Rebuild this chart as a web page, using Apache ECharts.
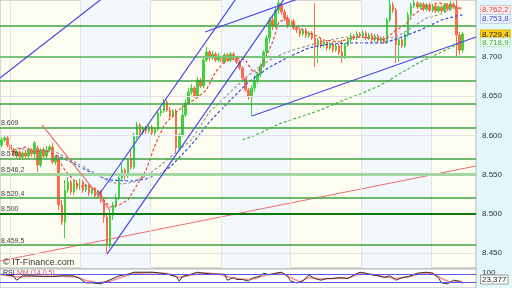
<!DOCTYPE html>
<html><head><meta charset="utf-8">
<script src="https://cdn.jsdelivr.net/npm/echarts@6/dist/echarts.min.js"></script>
<style>html,body{margin:0;padding:0;background:#e3f8fd}#c{width:512px;height:288px}</style>
</head><body><div id="c"></div>
<script>
// ---- data ----
const candles = [
[8.5878,8.5941,8.5852,8.5980],[8.5941,8.5967,8.5916,8.6005],[8.5967,8.5878,8.5852,8.5992],[8.5878,8.5814,8.5788,8.5903],
[8.5814,8.5750,8.5725,8.5839],[8.5750,8.5788,8.5712,8.5814],[8.5788,8.5725,8.5686,8.5814],[8.5725,8.5776,8.5699,8.5801],
[8.5776,8.5737,8.5712,8.5814],[8.5737,8.5814,8.5712,8.5839],[8.5814,8.5763,8.5725,8.5839],[8.5763,8.5903,8.5712,8.5929],
[8.5839,8.5623,8.5533,8.5878],[8.5623,8.5814,8.5597,8.5839],[8.5814,8.5737,8.5712,8.5852],[8.5737,8.5814,8.5712,8.5865],
[8.5814,8.5852,8.5788,8.5878],[8.5852,8.5661,8.5635,8.5903],[8.5661,8.5725,8.5623,8.5750],[8.5712,8.5112,8.5048,8.5737],
[8.5112,8.4896,8.4857,8.5176],[8.4896,8.5304,8.4691,8.5431],[8.5304,8.5406,8.5265,8.5469],[8.5406,8.5278,8.5240,8.5431],
[8.5278,8.5393,8.5240,8.5418],[8.5393,8.5329,8.5304,8.5431],[8.5329,8.5406,8.5304,8.5444],[8.5406,8.5304,8.5265,8.5431],
[8.5304,8.5355,8.5278,8.5380],[8.5355,8.5265,8.5227,8.5380],[8.5265,8.5316,8.5240,8.5342],[8.5316,8.5227,8.5202,8.5342],
[8.5227,8.5278,8.5189,8.5304],[8.5278,8.5176,8.5138,8.5304],[8.5176,8.4959,8.4883,8.5202],[8.4959,8.4602,8.4487,8.4985],
[8.4602,8.4985,8.4564,8.5048],[8.4985,8.5112,8.4921,8.5151],[8.5112,8.5202,8.5074,8.5253],[8.5202,8.5457,8.5176,8.5495],
[8.5457,8.5559,8.5431,8.5661],[8.5559,8.5482,8.5431,8.5584],[8.5482,8.5686,8.5457,8.5712],[8.5712,8.5597,8.5559,8.5814],
[8.5597,8.5980,8.5571,8.6031],[8.5980,8.6133,8.5954,8.6171],[8.6133,8.6031,8.5980,8.6158],[8.6031,8.6094,8.6005,8.6120],
[8.6094,8.6056,8.6018,8.6120],[8.6056,8.6107,8.6031,8.6133],[8.6107,8.6031,8.6005,8.6133],[8.6031,8.6082,8.6005,8.6107],
[8.6082,8.6286,8.6056,8.6324],[8.6286,8.6311,8.6247,8.6349],[8.6311,8.6426,8.6286,8.6464],[8.6426,8.6324,8.6298,8.6452],
[8.6324,8.6247,8.6222,8.6362],[8.6247,8.6311,8.6222,8.6337],[8.6311,8.5839,8.5776,8.6337],[8.5839,8.6005,8.5814,8.6031],
[8.6005,8.6260,8.5980,8.6388],[8.6260,8.6413,8.6235,8.6452],[8.6413,8.6554,8.6388,8.6605],[8.6554,8.6605,8.6515,8.6656],
[8.6605,8.6503,8.6477,8.6630],[8.6503,8.6707,8.6477,8.6745],[8.6707,8.6630,8.6605,8.6732],[8.6630,8.6962,8.6605,8.7000],
[8.6962,8.7064,8.6936,8.7128],[8.7064,8.6987,8.6949,8.7089],[8.6987,8.7038,8.6962,8.7077],[8.7038,8.6962,8.6936,8.7064],
[8.6962,8.7013,8.6936,8.7051],[8.7013,8.6936,8.6923,8.7038],[8.6936,8.7025,8.6911,8.7051],[8.7025,8.6962,8.6936,8.7051],
[8.6962,8.7038,8.6936,8.7064],[8.7038,8.6987,8.6962,8.7064],[8.6987,8.6936,8.6911,8.7013],[8.6936,8.6860,8.6834,8.6962],
[8.6860,8.6732,8.6707,8.6885],[8.6732,8.6579,8.6554,8.6745],[8.6579,8.6490,8.6452,8.6605],[8.6490,8.6605,8.6247,8.6643],
[8.6605,8.6707,8.6554,8.6770],[8.6707,8.6783,8.6656,8.6809],[8.6783,8.6885,8.6745,8.6923],[8.6885,8.7064,8.6860,8.7089],
[8.7064,8.7242,8.7025,8.7281],[8.7242,8.7472,8.7179,8.7510],[8.7472,8.7395,8.7344,8.7536],[8.7395,8.7599,8.7370,8.7638],
[8.7599,8.7689,8.7548,8.7765],[8.7663,8.7574,8.7536,8.7701],[8.7574,8.7497,8.7459,8.7612],[8.7497,8.7408,8.7370,8.7536],
[8.7408,8.7459,8.7383,8.7497],[8.7459,8.7370,8.7344,8.7485],[8.7370,8.7344,8.7306,8.7395],[8.7344,8.7293,8.7255,8.7370],
[8.7293,8.7344,8.7268,8.7370],[8.7344,8.7268,8.7242,8.7370],[8.7268,8.7306,8.7242,8.7332],[8.7306,8.7242,8.7217,8.7332],
[8.7242,8.7140,8.6872,8.7689],[8.7140,8.7217,8.6923,8.7242],[8.7217,8.7153,8.7115,8.7242],[8.7153,8.7191,8.7128,8.7217],
[8.7191,8.7115,8.7089,8.7217],[8.7115,8.7166,8.7089,8.7191],[8.7166,8.7089,8.7051,8.7191],[8.7089,8.7140,8.7064,8.7166],
[8.7140,8.7064,8.7025,8.7166],[8.7064,8.7000,8.6923,8.7217],[8.7000,8.7153,8.6974,8.7179],[8.7153,8.7217,8.7128,8.7242],
[8.7217,8.7268,8.7191,8.7306],[8.7268,8.7242,8.7217,8.7293],[8.7242,8.7293,8.7217,8.7332],[8.7293,8.7268,8.7242,8.7319],
[8.7268,8.7306,8.7242,8.7344],[8.7306,8.7242,8.7217,8.7332],[8.7242,8.7281,8.7217,8.7306],[8.7281,8.7217,8.7191,8.7306],
[8.7217,8.7268,8.7191,8.7293],[8.7268,8.7204,8.7179,8.7293],[8.7204,8.7242,8.7179,8.7268],[8.7242,8.7191,8.7166,8.7268],
[8.7191,8.7472,8.7166,8.7497],[8.7472,8.7663,8.7446,8.7750],[8.7663,8.7599,8.7561,8.7701],[8.7599,8.7153,8.6923,8.7625],
[8.7153,8.7217,8.6936,8.7242],[8.7217,8.7140,8.7115,8.7242],[8.7140,8.7281,8.7115,8.7306],[8.7281,8.7536,8.7255,8.7574],
[8.7536,8.7650,8.7510,8.7689],[8.7650,8.7689,8.7625,8.7727],[8.7689,8.7638,8.7612,8.7714],[8.7638,8.7676,8.7612,8.7701],
[8.7676,8.7612,8.7587,8.7701],[8.7612,8.7663,8.7587,8.7689],[8.7663,8.7599,8.7574,8.7689],[8.7599,8.7650,8.7574,8.7676],
[8.7650,8.7587,8.7561,8.7676],[8.7587,8.7638,8.7561,8.7663],[8.7638,8.7587,8.7561,8.7663],[8.7587,8.7663,8.7561,8.7689],
[8.7663,8.7612,8.7587,8.7689],[8.7612,8.7676,8.7587,8.7714],[8.7676,8.7638,8.7612,8.7701],[8.7638,8.7281,8.7000,8.7727],
[8.7281,8.7089,8.7025,8.7319],[8.7089,8.7293,8.7051,8.7319]
];
const slotCount = 158;
const maRed = [[4,8.5814],[8,8.5852],[11,8.5788],[14,8.5814],[18,8.5750],[19,8.5686],[21,8.5559],[24,8.5431],[26,8.5342],[28,8.5367],[29,8.5355],[32,8.5304],[34,8.5176],[36,8.5087],[39,8.5112],[42,8.5176],[44,8.5304],[48,8.5559],[51,8.5878],[54,8.6133],[58,8.6298],[61,8.6388],[64,8.6452],[68,8.6579],[71,8.6809],[74,8.6936],[78,8.6987],[81,8.6962],[83,8.6834],[85,8.6796],[87,8.6936],[90,8.7191],[92,8.7446],[95,8.7497],[97,8.7421],[101,8.7319],[104,8.7281],[107,8.7217],[112,8.7191],[116,8.7242],[119,8.7255],[122,8.7242],[127,8.7217],[131,8.7344],[134,8.7408],[137,8.7548],[141,8.7650],[145,8.7689],[149,8.7663],[152,8.7625],[153,8.7622]];
const maGray = [[5,8.5839],[9,8.5814],[14,8.5814],[18,8.5788],[23,8.5686],[28,8.5584],[33,8.5469],[36,8.5406],[40,8.5380],[44,8.5406],[48,8.5482],[53,8.5623],[58,8.5788],[63,8.5941],[69,8.6298],[76,8.6554],[82,8.6770],[89,8.6962],[94,8.7051],[99,8.7115],[104,8.7166],[109,8.7217],[114,8.7255],[119,8.7255],[126,8.7230],[131,8.7255],[136,8.7370],[141,8.7497],[146,8.7548],[150,8.7625],[153,8.7612]];
const maBlue = [[18,8.5750],[23,8.5661],[28,8.5559],[33,8.5469],[36,8.5431],[43,8.5418],[48,8.5444],[53,8.5520],[56,8.5597],[63,8.5878],[69,8.6171],[76,8.6452],[82,8.6681],[89,8.6872],[96,8.7013],[102,8.7115],[109,8.7166],[116,8.7179],[122,8.7179],[127,8.7179],[132,8.7242],[139,8.7344],[146,8.7472],[151,8.7523],[153,8.7538]];
const maGreen = [[80,8.5941],[86,8.6031],[92,8.6145],[99,8.6235],[106,8.6324],[112,8.6426],[119,8.6528],[126,8.6643],[132,8.6783],[139,8.6936],[146,8.7064],[153,8.7189]];
const tlBlueTop = [[-0.5,8.6732],[34.02,8.7765]];
const tlBlueA = [[32.03,8.5227],[79.16,8.7816]];
const tlBlueB = [[35.02,8.4487],[94.27,8.7765]];
const tlBlueUpper = [[67.55,8.7319],[99.08,8.7750]];
const tlBlueLower = [[83.15,8.6247],[157.5,8.7255]];
const tlRedDown = [[13.44,8.6133],[36.01,8.5048]];
const tlRedLong = [[-0.5,8.4398],[157.5,8.5610]];
const levelValues = [8.7434,8.7000,8.6681,8.6375,8.6090,8.5750,8.5462,8.5204,8.5000,8.4595];
const levelLabels = ['','','','','8.609','8.575','8.546,2','8.520,4','8.500','8.459,5'];
const priceTicks = [8.45,8.50,8.55,8.60,8.65,8.70];
const sessionBreaks = [2.82,26.05,49.29,72.86,95.76,119.33,142.56];
const endValues = [8.7622,8.7538,8.7294,8.7189];
const endTexts = ['8.762,2','8.753,8','8.729,4','8.718,9'];
const rsi = [[0,73],[4,64],[5,41],[7,64],[10,64],[14,60],[17,60],[20,64],[24,64],[26,50],[28,27],[30,27],[33,22],[35,36],[37,50],[39,64],[42,73],[44,83],[47,83],[50,83],[53,78],[55,73],[58,60],[59,36],[60,60],[63,73],[65,83],[67,78],[70,73],[74,73],[75,41],[77,55],[78,45],[80,45],[82,36],[83,50],[86,64],[87,78],[89,69],[91,78],[93,83],[95,60],[96,36],[98,27],[100,36],[102,69],[104,50],[106,41],[108,50],[110,50],[112,55],[115,50],[117,69],[119,83],[121,78],[123,69],[125,64],[127,55],[129,64],[131,41],[133,55],[135,60],[138,78],[141,83],[143,78],[145,55],[146,27],[148,22],[150,41],[152,36],[153,23.377]];
const rsiSignal = [[0,70],[5,58],[10,62],[15,62],[20,62],[25,58],[28,40],[32,28],[36,35],[40,58],[44,76],[50,82],[55,76],[59,55],[63,68],[67,80],[72,74],[76,55],[80,46],[84,48],[88,70],[93,80],[96,55],[99,32],[102,55],[106,48],[110,50],[115,52],[119,75],[123,72],[127,60],[131,50],[135,58],[139,75],[143,80],[146,50],[149,30],[153,35]];
const rsiLevels = [70,30];
const rsiLast = 23.377;
const rsiLastText = '23,377';

// ---- chart ----
const cats = Array.from({length: slotCount}, (_, i) => String(i));
const F = 'Liberation Sans, Arial, sans-serif';
const chart = echarts.init(document.getElementById('c'), null, {renderer: 'canvas'});

function levelStyle(i) {
  const v = levelValues[i];
  if (v === 8.7) return {color: '#7cc47c', width: 2};
  if (v === 8.5462) return {color: '#a3d6a3', width: 3};
  if (v === 8.5) return {color: '#0a7a0a', width: 2};
  return {color: '#3ea23e', width: 1.5};
}
const endStyles = [
  {color: '#e03535', backgroundColor: '#fff2f2', borderColor: '#e8c0c0', offset: [0, 0]},
  {color: '#3a4ad0', backgroundColor: '#f2f6ff', borderColor: '#c0c8e8', offset: [0, 1]},
  {color: '#222', backgroundColor: '#ffcf1a', borderColor: '#e0b000', offset: [0, 1]},
  {color: '#33aa33', backgroundColor: '#f2fff2', borderColor: '#c0e0c0', offset: [0, 1]}
];

const tl = (data, color, width) => ({
  type: 'line', xAxisIndex: 1, yAxisIndex: 0, data, showSymbol: false, silent: true, z: 5,
  lineStyle: {color, width}, clip: true
});
const ma = (data, color) => ({
  type: 'line', xAxisIndex: 1, yAxisIndex: 0, data, showSymbol: false, silent: true, z: 4,
  lineStyle: {color, width: 1.2, type: [3, 2]}, clip: true
});
const hidden = 'rgba(0,0,0,0)';
// holder series for the value boxes on the right (not clipped, invisible line)
const endLabelSeries = {
  type: 'line', xAxisIndex: 1, yAxisIndex: 0, data: [[0, endValues[0]]], showSymbol: false, silent: true,
  clip: false, z: 20, lineStyle: {color: hidden, width: 0},
  markLine: {symbol: 'none', silent: true, animation: false,
    data: endValues.map((v, k) => ({yAxis: v, lineStyle: {color: hidden, width: 0}, label: {
      show: true, position: 'end', distance: 5, formatter: endTexts[k], fontFamily: F, fontSize: 8,
      color: endStyles[k].color, backgroundColor: endStyles[k].backgroundColor,
      borderColor: endStyles[k].borderColor, borderWidth: 1, padding: [0, 1, 0, 1], offset: endStyles[k].offset
    }}))}
};

const option = {
  animation: false,
  backgroundColor: '#e3f8fd',
  grid: [
    {left: 0, right: 36, top: 0, height: 268, show: true, backgroundColor: '#fdfdf2', borderColor: '#b4b4b4', borderWidth: 1},
    {left: 0, right: 36, top: 269, height: 22, show: true, backgroundColor: '#ffffff', borderColor: '#b4b4b4', borderWidth: 1}
  ],
  xAxis: [
    {type: 'category', gridIndex: 0, data: cats, boundaryGap: true, show: false},
    {type: 'value', gridIndex: 0, min: -0.5, max: slotCount - 0.5, show: false},
    {type: 'value', gridIndex: 1, min: -0.5, max: slotCount - 0.5, show: false}
  ],
  yAxis: [
    {type: 'value', gridIndex: 0, position: 'right', min: 8.4309, max: 8.7727, scale: true,
      axisLine: {show: false}, splitLine: {show: false},
      axisTick: {show: true, length: 4, lineStyle: {color: '#888'}, customValues: priceTicks},
      axisLabel: {show: true, customValues: priceTicks, fontFamily: F, fontSize: 8, color: '#333', margin: 6,
        formatter: v => v.toFixed(3)}},
    {type: 'value', gridIndex: 1, position: 'right', min: 0, max: 100,
      axisLine: {show: false}, splitLine: {show: false}, axisTick: {show: false},
      axisLabel: {show: true, customValues: [100], fontFamily: F, fontSize: 8, color: '#333', margin: 6, verticalAlign: 'top'}}
  ],
  graphic: [
    {type: 'text', left: 3, top: 258, z: 50, style: {text: '© IT-Finance.com', font: '9px ' + F, fill: '#333'}},
    {type: 'text', left: 3, top: 270, z: 50, style: {text: 'RSI', font: '7px ' + F, fill: '#222'}},
    {type: 'text', left: 17, top: 270, z: 50, style: {text: 'MM (14,0,5)', font: '7px ' + F, fill: '#e05050'}}
  ],
  series: [
    {type: 'line', xAxisIndex: 1, yAxisIndex: 0, data: tlRedLong, showSymbol: false, silent: true, z: 1,
      lineStyle: {color: '#f07070', width: 1.2},
      markArea: {silent: true, itemStyle: {color: '#f3f8fd'},
        data: [[{xAxis: sessionBreaks[1]}, {xAxis: sessionBreaks[2]}],
               [{xAxis: sessionBreaks[3]}, {xAxis: sessionBreaks[4]}],
               [{xAxis: sessionBreaks[5]}, {xAxis: sessionBreaks[6]}]]},
      markLine: {symbol: 'none', silent: true, animation: false,
        data: sessionBreaks.map(b => ({xAxis: b, lineStyle: {color: '#e4e4e4', width: 1, type: 'solid'}, label: {show: false}}))
          .concat(priceTicks.map(t => ({yAxis: t, lineStyle: {color: '#e2e2e2', width: 1, type: 'solid'}, label: {show: false}})))
          .concat(levelValues.map((v, i) => ({yAxis: v, lineStyle: Object.assign({type: 'solid'}, levelStyle(i)),
            label: {show: !!levelLabels[i], position: 'insideStartTop', formatter: levelLabels[i], fontFamily: F, fontSize: 7, color: '#444', distance: 1}})))
      }},
    {type: 'candlestick', xAxisIndex: 0, yAxisIndex: 0, data: candles, barWidth: 2, z: 3, silent: true,
      itemStyle: {color: '#3fd43f', color0: '#ff6a48', borderColor: '#3fd43f', borderColor0: '#ff6a48', borderWidth: 1}},
    ma(maGreen, '#44bb44'),
    ma(maBlue, '#3a50d8'),
    ma(maGray, '#9a9a9a'),
    ma(maRed, '#e84a3a'),
    tl(tlBlueTop, '#4848e8', 1.2),
    tl(tlBlueA, '#4848e8', 1.2),
    tl(tlBlueB, '#4848e8', 1.2),
    tl(tlBlueUpper, '#4848e8', 1.2),
    tl(tlBlueLower, '#4848e8', 1.2),
    tl(tlRedDown, '#f07070', 1.2),
    endLabelSeries,
    // RSI panel
    {type: 'line', xAxisIndex: 2, yAxisIndex: 1, data: rsiSignal, showSymbol: false, silent: true, z: 3,
      lineStyle: {color: '#ff8a8a', width: 1.5},
      markLine: {symbol: 'none', silent: true,
        data: rsiLevels.map(l => ({yAxis: l, lineStyle: {color: '#5a5ae0', width: 1, type: 'solid'}, label: {show: false}}))}},
    {type: 'line', xAxisIndex: 2, yAxisIndex: 1, data: rsi, showSymbol: false, silent: true, z: 4,
      lineStyle: {color: '#333', width: 1}},
    {type: 'line', xAxisIndex: 2, yAxisIndex: 1, data: [[0, rsiLast]], showSymbol: false, silent: true, z: 20, clip: false,
      lineStyle: {color: hidden, width: 0},
      markLine: {symbol: 'none', silent: true,
        data: [{yAxis: rsiLast, lineStyle: {color: hidden, width: 0}, label: {show: true, position: 'end', distance: 5, formatter: rsiLastText,
          fontFamily: F, fontSize: 8, color: '#222', backgroundColor: '#ffffff', borderColor: '#999', borderWidth: 1,
          padding: [0, 1, 0, 1], offset: [0, -4]}}]}}
  ]
};
chart.setOption(option);
</script></body></html>
